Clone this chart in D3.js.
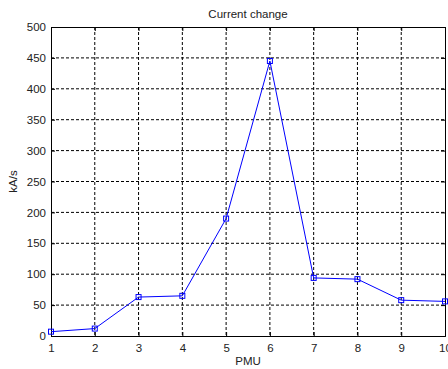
<!DOCTYPE html>
<html>
<head>
<meta charset="utf-8">
<script src="https://cdn.jsdelivr.net/npm/d3@7"></script>
<style>
  body { margin: 0; background: #fff; }
  text { font-family: Arial, "Liberation Sans", sans-serif; }
</style>
</head>
<body>
<div id="chart"></div>
<script>
// PMU index and current change (kA/s)
var pmu = [1, 2, 3, 4, 5, 6, 7, 8, 9, 10];
var rate = [7, 12, 63, 65, 190, 445, 94, 92, 58, 56];
var yTicks = [0, 50, 100, 150, 200, 250, 300, 350, 400, 450, 500];

var W = 448, H = 369;
var pLeft = 51, pRight = 445, pTop = 27, pBottom = 336;

var svg = d3.select("#chart").append("svg")
  .attr("width", W).attr("height", H);

var x = d3.scaleLinear().domain([1, 10]).range([pLeft, pRight]);
var y = d3.scaleLinear().domain([0, 500]).range([pBottom, pTop]);

// grid
svg.append("g").selectAll("line").data(pmu.slice(1, -1)).enter().append("line")
  .attr("x1", d => x(d)).attr("x2", d => x(d))
  .attr("y1", pTop).attr("y2", pBottom)
  .attr("stroke", "#000").attr("stroke-width", 1)
  .attr("stroke-dasharray", "3,2");
svg.append("g").selectAll("line").data(yTicks.slice(1, -1)).enter().append("line")
  .attr("x1", pLeft).attr("x2", pRight)
  .attr("y1", d => y(d)).attr("y2", d => y(d))
  .attr("stroke", "#000").attr("stroke-width", 1)
  .attr("stroke-dasharray", "3,2");

// axes (ticks inward like matlab)
svg.append("g").attr("transform", "translate(0," + pBottom + ")")
  .call(d3.axisBottom(x).tickValues(pmu).tickSize(-4).tickPadding(8).tickFormat(d3.format("d")));
svg.append("g").attr("transform", "translate(" + pLeft + ",0)")
  .call(d3.axisLeft(y).tickValues(yTicks).tickSize(-4).tickPadding(5));
svg.append("g").attr("transform", "translate(0," + pTop + ")")
  .call(d3.axisTop(x).tickValues(pmu).tickSize(-4).tickFormat(""));
svg.append("g").attr("transform", "translate(" + pRight + ",0)")
  .call(d3.axisRight(y).tickValues(yTicks).tickSize(-4).tickFormat(""));

svg.selectAll(".domain").attr("stroke", "#000");
svg.selectAll(".tick line").attr("stroke", "#000");
svg.selectAll(".tick text").attr("fill", "#222").style("font-size", "11.5px")
  .style("font-family", "Arial, 'Liberation Sans', sans-serif");

// line + square markers
var line = d3.line().x((d, i) => x(pmu[i])).y(d => y(d));
svg.append("path").datum(rate)
  .attr("d", line)
  .attr("fill", "none").attr("stroke", "#0000ff").attr("stroke-width", 1);
svg.append("g").selectAll("rect").data(rate).enter().append("rect")
  .attr("x", (d, i) => x(pmu[i]) - 2.5).attr("y", d => y(d) - 2.5)
  .attr("width", 5).attr("height", 5)
  .attr("fill", "none").attr("stroke", "#0000ff").attr("stroke-width", 1);

// labels
svg.append("text").attr("x", (pLeft + pRight) / 2).attr("y", 18)
  .attr("text-anchor", "middle").style("font-size", "11.5px").attr("fill", "#222")
  .text("Current change");
svg.append("text").attr("x", (pLeft + pRight) / 2).attr("y", 365)
  .attr("text-anchor", "middle").style("font-size", "11.5px").attr("fill", "#222")
  .text("PMU");
svg.append("text")
  .attr("transform", "translate(17," + (pTop + pBottom) / 2 + ") rotate(-90)")
  .attr("text-anchor", "middle").style("font-size", "11.5px").attr("fill", "#222")
  .text("kA/s");
</script>
</body>
</html>
